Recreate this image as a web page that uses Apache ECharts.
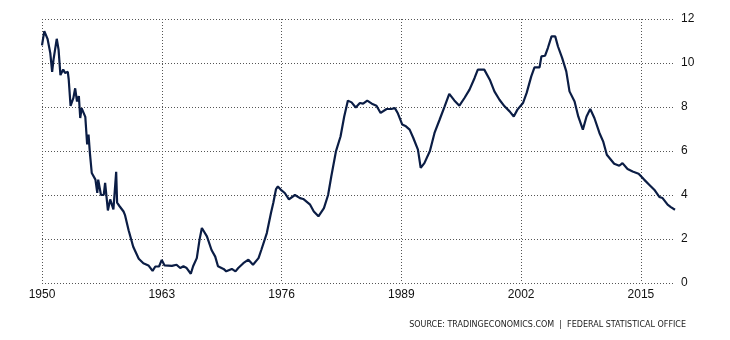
<!DOCTYPE html>
<html>
<head>
<meta charset="utf-8">
<script src="https://cdn.jsdelivr.net/npm/echarts@6/dist/echarts.min.js"></script>
<style>
  html, body { margin: 0; padding: 0; background: #fff; }
  #main { width: 730px; height: 340px; }
</style>
</head>
<body>
<div id="main"></div>
<script>
// years (fractional) and unemployment rate in %
var years = [
  1950.0, 1950.25, 1950.6, 1950.9, 1951.1, 1951.25, 1951.6, 1951.8, 1952.0, 1952.3,
  1952.5, 1952.8, 1952.9, 1953.1, 1953.4, 1953.6, 1953.8, 1954.0, 1954.15, 1954.3,
  1954.7, 1954.9, 1955.05, 1955.2, 1955.4, 1955.8, 1956.0, 1956.1, 1956.4, 1956.7,
  1956.85, 1957.15, 1957.4, 1957.75, 1958.05, 1958.15, 1958.4, 1958.85, 1959.0, 1959.4,
  1959.9, 1960.5, 1961.0, 1961.55, 1962.0, 1962.3, 1962.7, 1963.0, 1963.3, 1964.1,
  1964.6, 1965.0, 1965.35, 1965.7, 1966.15, 1966.4, 1966.8, 1967.1, 1967.35, 1967.9,
  1968.4, 1968.8, 1969.1, 1969.7, 1970.0, 1970.6, 1971.0, 1971.3, 1971.85, 1972.4,
  1972.9, 1973.5, 1973.8, 1974.4, 1974.85, 1975.1, 1975.4, 1975.6, 1976.0, 1976.35,
  1976.8, 1977.45, 1978.0, 1978.35, 1979.1, 1979.5, 1980.0, 1980.6, 1981.05, 1981.4,
  1981.9, 1982.4, 1982.8, 1983.2, 1983.6, 1984.05, 1984.5, 1984.85, 1985.3, 1985.8,
  1986.3, 1986.75, 1987.4, 1987.9, 1988.3, 1988.6, 1989.1, 1989.5, 1989.9, 1990.3,
  1990.8, 1991.1, 1991.5, 1992.1, 1992.6, 1993.15, 1993.7, 1994.2, 1994.75, 1995.3,
  1995.85, 1996.4, 1996.95, 1997.3, 1998.0, 1998.6, 1999.1, 1999.65, 2000.2, 2000.75,
  2001.2, 2001.6, 2002.2, 2002.6, 2003.1, 2003.45, 2004.0, 2004.2, 2004.6, 2004.9,
  2005.3, 2005.7, 2006.0, 2006.45, 2006.9, 2007.25, 2007.8, 2008.2, 2008.7, 2009.1,
  2009.5, 2009.95, 2010.5, 2010.9, 2011.3, 2012.1, 2012.65, 2013.0, 2013.55, 2014.1,
  2014.75, 2015.35, 2015.9, 2016.45, 2017.0, 2017.35, 2017.9, 2018.25, 2018.7
];
var rates = [
  10.8, 11.45, 11.1, 10.45, 9.6, 10.15, 11.1, 10.6, 9.45, 9.7,
  9.55, 9.6, 9.25, 8.05, 8.4, 8.85, 8.25, 8.5, 7.5, 7.95,
  7.55, 6.3, 6.75, 5.9, 5.0, 4.7, 4.1, 4.7, 4.0, 4.0,
  4.55, 3.3, 3.8, 3.35, 5.05, 3.65, 3.5, 3.25, 3.1, 2.4,
  1.65, 1.1, 0.9, 0.8, 0.55, 0.75, 0.75, 1.05, 0.8, 0.78,
  0.83, 0.68, 0.76, 0.68, 0.42, 0.76, 1.13, 1.97, 2.5, 2.12,
  1.5, 1.2, 0.76, 0.64, 0.53, 0.64, 0.53, 0.68, 0.9, 1.06,
  0.83, 1.13, 1.5, 2.27, 3.18, 3.64, 4.27, 4.39, 4.21, 4.09,
  3.8, 4.0, 3.86, 3.82, 3.56, 3.25, 3.03, 3.4, 4.0, 4.85,
  5.98, 6.66, 7.57, 8.29, 8.21, 7.98, 8.18, 8.15, 8.29, 8.15,
  8.06, 7.73, 7.91, 7.91, 7.95, 7.73, 7.2, 7.12, 6.97, 6.59,
  6.06, 5.23, 5.45, 6.0, 6.82, 7.42, 8.03, 8.6, 8.3, 8.06,
  8.41, 8.79, 9.32, 9.7, 9.7, 9.24, 8.71, 8.33, 8.03, 7.8,
  7.57, 7.88, 8.18, 8.64, 9.39, 9.8, 9.8, 10.3, 10.33, 10.68,
  11.21, 11.21, 10.75, 10.23, 9.62, 8.71, 8.25, 7.57, 6.97, 7.57,
  7.91, 7.5, 6.82, 6.44, 5.83, 5.42, 5.33, 5.45, 5.18, 5.07,
  4.97, 4.7, 4.47, 4.24, 3.91, 3.86, 3.56, 3.45, 3.33
];
var sourceText = 'SOURCE: TRADINGECONOMICS.COM  |  FEDERAL STATISTICAL OFFICE';

var seriesData = years.map(function (y, i) { return [y, rates[i]]; });

var myChart = echarts.init(document.getElementById('main'));

var gridLine = { show: true, lineStyle: { color: '#555', type: [1, 2], width: 1 } };
var labelFont = { color: '#111', fontSize: 12, fontFamily: 'Liberation Sans, Arial, sans-serif' };

var option = {
  animation: false,
  grid: { left: 42, right: 55, top: 19, bottom: 57, containLabel: false },
  xAxis: {
    type: 'value',
    min: 1950,
    max: 2018.7,
    interval: 13,
    axisLine: { show: false },
    axisTick: { show: false },
    splitLine: Object.assign({ showMaxLine: false }, gridLine),
    axisLabel: Object.assign({
      margin: 6,
      showMaxLabel: false,
      formatter: function (v) { return String(v); }
    }, labelFont)
  },
  yAxis: {
    type: 'value',
    position: 'right',
    min: 0,
    max: 12,
    interval: 2,
    axisLine: { show: false },
    axisTick: { show: false },
    splitLine: gridLine,
    axisLabel: Object.assign({ margin: 6 }, labelFont)
  },
  // source line at the bottom right
  graphic: [{
    type: 'text',
    right: 44,
    top: 321,
    style: {
      text: sourceText,
      fill: '#222',
      font: '8px "DejaVu Sans", sans-serif'
    }
  }],
  series: [{
    type: 'line',
    data: seriesData,
    showSymbol: false,
    lineStyle: { color: '#0b1d45', width: 2.2 },
    itemStyle: { color: '#0b1d45' }
  }]
};

myChart.setOption(option);
</script>
</body>
</html>
